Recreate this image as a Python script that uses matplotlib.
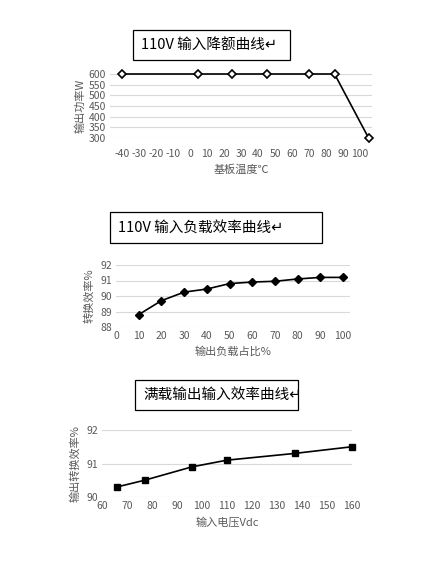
import matplotlib
matplotlib.use("Agg")
import matplotlib.pyplot as plt
from matplotlib.patches import Rectangle

plt.rcParams['font.family'] = ['Noto Sans CJK SC', 'DejaVu Sans']
plt.rcParams['axes.unicode_minus'] = False

t_x = [-40, 5, 25, 45, 70, 85, 105]
t_y = [600, 600, 600, 600, 600, 600, 300]
t_ticks = list(range(-40, 101, 10))
t_yticks = [300, 350, 400, 450, 500, 550, 600]

l_x = [10, 20, 30, 40, 50, 60, 70, 80, 90, 100]
l_y = [88.8, 89.7, 90.25, 90.45, 90.8, 90.9, 90.95, 91.1, 91.2, 91.2]
l_ticks = list(range(0, 101, 10))
l_yticks = [88, 89, 90, 91, 92]

v_x = [66, 77, 96, 110, 137, 160]
v_y = [90.3, 90.5, 90.9, 91.1, 91.3, 91.5]
v_ticks = list(range(60, 161, 10))
v_yticks = [90, 91, 92]

W, H = 437, 561
fig = plt.figure(figsize=(W/100, H/100), dpi=100)

def ax_at(l, t, r, b):
    return fig.add_axes([l/W, 1-b/H, (r-l)/W, (b-t)/H])

def style(ax):
    for s in ax.spines.values():
        s.set_visible(False)
    ax.grid(axis='y', color='#d9d9d9', lw=0.8)
    ax.set_axisbelow(True)
    ax.tick_params(length=0, labelsize=7.5, colors='#595959', pad=3)

def box(l, t, r, b, txt):
    fig.add_artist(Rectangle((l/W, 1-b/H), (r-l)/W, (b-t)/H, transform=fig.transFigure,
                             fc='white', ec='black', lw=0.9))
    fig.text((l+8)/W, 1-(t+b)/2/H, txt, fontsize=10.5, ha='left', va='center')

# top
ax = ax_at(110, 74, 372, 138)
style(ax)
ax.plot(t_x, t_y, color='black', lw=1.2, marker='D', ms=4, mfc='white', mec='black', mew=1.2, clip_on=False)
ax.set_xlim(-47, 107); ax.set_ylim(300, 600)
ax.set_xticks(t_ticks); ax.set_yticks(t_yticks)
ax.tick_params(axis='x', pad=8)
ax.set_xlabel('基板温度℃', fontsize=8, color='#595959')
ax.set_ylabel('输出功率W', fontsize=8, color='#595959', labelpad=2)
box(133, 30, 290, 60, '110V 输入降额曲线↵')

# middle
ax = ax_at(116, 265, 350, 327)
style(ax)
ax.plot(l_x, l_y, color='black', lw=1.2, marker='D', ms=4, mfc='black', mec='black', clip_on=False)
ax.set_xlim(0, 103); ax.set_ylim(88, 92)
ax.set_xticks(l_ticks); ax.set_yticks(l_yticks)
ax.set_xlabel('输出负载占比%', fontsize=8, color='#595959')
ax.set_ylabel('转换效率%', fontsize=8, color='#595959')
box(110, 212, 322, 243, '110V 输入负载效率曲线↵')

# bottom
ax = ax_at(102, 430, 352, 497)
style(ax)
ax.plot(v_x, v_y, color='black', lw=1.2, marker='s', ms=5, mfc='black', mec='black', clip_on=False)
ax.set_xlim(60, 160); ax.set_ylim(90, 92)
ax.set_xticks(v_ticks); ax.set_yticks(v_yticks)
ax.set_xlabel('输入电压Vdc', fontsize=8, color='#595959')
ax.set_ylabel('输出转换效率%', fontsize=8, color='#595959')
box(135, 380, 298, 410, '满载输出输入效率曲线↵')

fig.savefig('out.png', dpi=100)
